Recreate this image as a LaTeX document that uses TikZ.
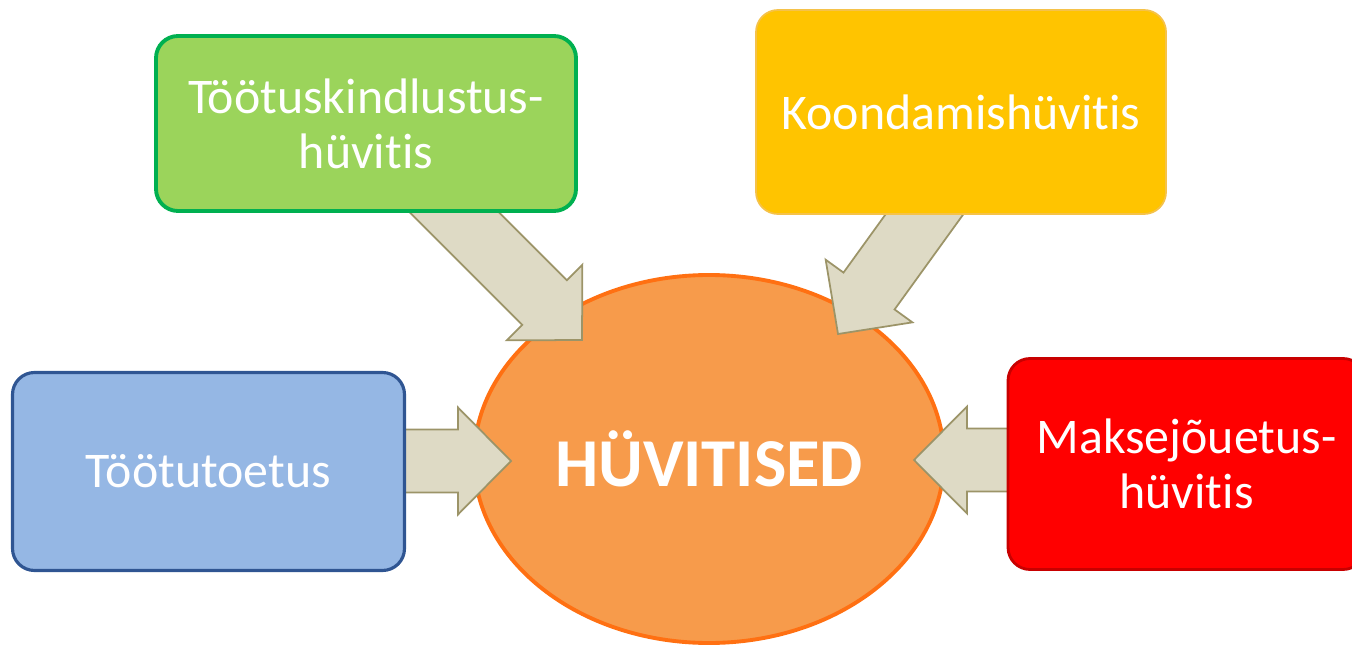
\documentclass[tikz,border=0pt]{standalone}
\usepackage{fontspec}
\setmainfont{Carlito}[Ligatures=NoCommon]
\usetikzlibrary{shapes.geometric,calc}
\pgfdeclarelayer{front}
\pgfsetlayers{main,front}
\definecolor{greenfill}{HTML}{9BD45B}
\definecolor{greenline}{HTML}{00B050}
\definecolor{yellowfill}{HTML}{FFC400}
\definecolor{yellowline}{HTML}{F5C24A}
\definecolor{bluefill}{HTML}{95B7E4}
\definecolor{blueline}{HTML}{2F5592}
\definecolor{redfill}{HTML}{FF0000}
\definecolor{redline}{HTML}{C80000}
\definecolor{hubfill}{HTML}{F79B4B}
\definecolor{hubline}{HTML}{FF7012}
\definecolor{arrowfill}{HTML}{DEDAC5}
\definecolor{arrowline}{HTML}{9C9468}
\newcommand{\shaftw}{0.315cm}
\newcommand{\headw}{0.535cm}
\newcommand{\headlen}{0.53cm}
\newcommand{\blockarrow}[2]{%
  \coordinate (neck) at ($#2!\headlen!#1$);
  \path[bigarrow] ($#1!\shaftw!90:#2$) -- ($(neck)!\shaftw!90:#2$) -- ($(neck)!\headw!90:#2$) -- #2
    -- ($(neck)!\headw!-90:#2$) -- ($(neck)!\shaftw!-90:#2$) -- ($#1!\shaftw!-90:#2$) -- cycle;}

\begin{document}
\begin{tikzpicture}
[box/.style={rectangle, rounded corners=0.22cm, inner sep=0pt, text=white, align=center,
  font=\fontsize{14.2}{15.6}\selectfont},
 bigarrow/.style={fill=arrowfill, draw=arrowline, line width=0.5pt, line join=miter}]
\useasboundingbox (0,0) rectangle (13.52,-6.47);
\node[ellipse, fill=hubfill, draw=hubline, line width=1.1pt, minimum width=4.70cm, minimum height=3.68cm,
  inner sep=0pt, text=white, font=\fontsize{19.5}{22}\selectfont\bfseries] (hub) at (7.09,-4.59) {HÜVITISED};

\begin{pgfonlayer}{front}
\node[box, fill=greenfill, draw=greenline, line width=1.1pt, minimum width=4.20cm, minimum height=1.75cm]
  (kindlustus) at (3.66,-1.235) {Töötuskindlustus-\\hüvitis};
\node[box, fill=yellowfill, draw=yellowline, line width=0.5pt, minimum width=4.10cm, minimum height=2.04cm]
  (koondamine) at (9.61,-1.12) {Koondamishüvitis};
\node[box, fill=bluefill, draw=blueline, line width=0.9pt, minimum width=3.92cm, minimum height=1.98cm]
  (toetus) at (2.085,-4.715) {Töötutoetus};
\node[box, fill=redfill, draw=redline, line width=0.8pt, minimum width=3.57cm, minimum height=2.11cm]
  (maksejoue) at (11.865,-4.64) {Maksejõuetus-\\hüvitis};
\end{pgfonlayer}

\coordinate (ktip) at ($(hub.center)+(-1.27,1.19)$);
\coordinate (otip) at ($(hub.center)+(1.29,1.25)$);
\coordinate (ttip) at ($(hub.center)+(-1.98,-0.02)$);
\coordinate (mtip) at ($(hub.center)+(2.05,-0.01)$);
\coordinate (kstart) at ($(ktip)+(-1.8,1.8)$);
\coordinate (ostart) at ($(otip)+(1.17,1.62)$);
\coordinate (tstart) at (toetus.center |- ttip);
\coordinate (mstart) at (maksejoue.center |- mtip);

\blockarrow{(kstart)}{(ktip)}
\blockarrow{(ostart)}{(otip)}
\blockarrow{(tstart)}{(ttip)}
\blockarrow{(mstart)}{(mtip)}
\end{tikzpicture}
\end{document}
